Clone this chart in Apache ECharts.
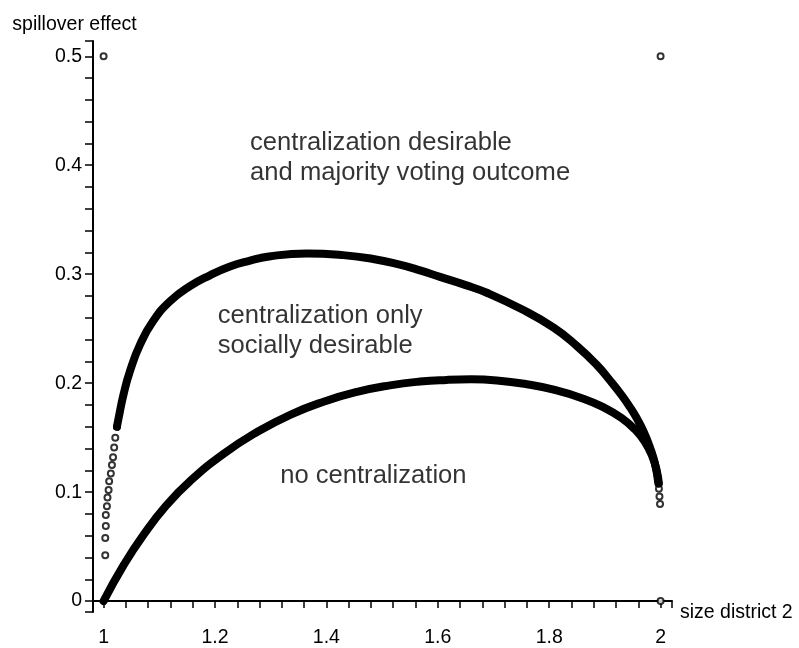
<!DOCTYPE html>
<html>
<head>
<meta charset="utf-8">
<script src="https://cdn.jsdelivr.net/npm/echarts@6/dist/echarts.min.js"></script>
<style>
  html, body { margin: 0; padding: 0; background: #fff; }
  #chart { width: 799px; height: 648px; }
</style>
</head>
<body>
<div id="chart"></div>
<script>
// tick labels
const xTickLabels = [1, 1.2, 1.4, 1.6, 1.8, 2];
const yTickLabels = [0, 0.1, 0.2, 0.3, 0.4, 0.5];

// upper boundary: loose circles next to x = 1 ...
const upperDotsX = [1.003, 1.003, 1.004, 1.004, 1.006, 1.007, 1.009, 1.010, 1.013, 1.015, 1.017, 1.019, 1.021, 1.024];
const upperDotsY = [0.042, 0.058, 0.069, 0.079, 0.087, 0.095, 0.102, 0.110, 0.117, 0.125, 0.132, 0.141, 0.150, 0.160];
// ... then the dense band
const upperX = [1.024, 1.027, 1.036, 1.048, 1.066, 1.089, 1.119, 1.155, 1.191, 1.227, 1.260, 1.300, 1.365, 1.430, 1.484, 1.530, 1.568, 1.604, 1.650, 1.688, 1.750, 1.808, 1.850, 1.885, 1.910, 1.930, 1.945, 1.957, 1.970, 1.981, 1.990, 1.996];
const upperY = [0.160, 0.168, 0.190, 0.212, 0.236, 0.257, 0.275, 0.289, 0.299, 0.307, 0.312, 0.3165, 0.319, 0.3175, 0.314, 0.309, 0.3035, 0.2975, 0.290, 0.283, 0.268, 0.251, 0.234, 0.217, 0.202, 0.189, 0.178, 0.168, 0.155, 0.141, 0.126, 0.108];

// lower boundary
const lowerX = [1.000, 1.036, 1.072, 1.113, 1.155, 1.215, 1.275, 1.335, 1.395, 1.455, 1.514, 1.568, 1.616, 1.660, 1.706, 1.760, 1.808, 1.860, 1.897, 1.930, 1.955, 1.972, 1.985, 1.993, 1.997];
const lowerY = [0.000, 0.033, 0.061, 0.088, 0.110, 0.135, 0.155, 0.171, 0.183, 0.192, 0.198, 0.2015, 0.203, 0.2035, 0.2025, 0.199, 0.194, 0.186, 0.178, 0.168, 0.157, 0.146, 0.133, 0.120, 0.108];

// loose circles where both curves end at x = 2
const tailX = [1.997, 1.998, 1.999];
const tailY = [0.103, 0.096, 0.089];

// corner points
const cornerX = [1, 2, 2];
const cornerY = [0.5, 0.5, 0];

// axis extents (Maple draws the axes a bit past the data)
const xMin = 0.981, xMax = 2.0205;
const yMin = -0.01, yMax = 0.514;

// minor ticks every 0.04 (x) and 0.02 (y), plus end hooks
const xTicks = [];
for (let i = 0; i <= 25; i++) xTicks.push(+(1 + i * 0.04).toFixed(2));
xTicks.push(xMax);
const yTicks = [yMin];
for (let i = 0; i <= 25; i++) yTicks.push(+(i * 0.02).toFixed(2));
yTicks.push(yMax);

const zip = (xs, ys) => xs.map((x, i) => [x, ys[i]]);

const font = "'Liberation Sans', Arial, sans-serif";

const notes = [
  { x: 1.263, y: 0.407, text: 'centralization desirable\nand majority voting outcome' },
  { x: 1.205, y: 0.2477, text: 'centralization only\nsocially desirable' },
  { x: 1.317, y: 0.1145, text: 'no centralization' }
];

const chart = echarts.init(document.getElementById('chart'));

const option = {
  animation: false,
  backgroundColor: '#fff',
  grid: { left: 93, right: 127, top: 41, bottom: 30 },
  xAxis: {
    type: 'value',
    min: xMin,
    max: xMax,
    name: 'size district 2',
    nameLocation: 'end',
    nameGap: 8,
    nameTextStyle: { color: '#000', fontSize: 19.5, fontFamily: font, verticalAlign: 'top', lineHeight: 24 },
    splitLine: { show: false },
    axisLine: { onZero: true, lineStyle: { color: '#000', width: 2 } },
    axisTick: { show: true, length: 7, lineStyle: { color: '#000', width: 1.5 }, customValues: xTicks },
    axisLabel: { color: '#000', fontSize: 19.5, fontFamily: font, margin: 16, customValues: xTickLabels }
  },
  yAxis: {
    type: 'value',
    min: yMin,
    max: yMax,
    name: 'spillover effect',
    nameLocation: 'end',
    nameGap: 6,
    nameTextStyle: { color: '#000', fontSize: 19.5, fontFamily: font, padding: [0, 37, 0, 0] },
    splitLine: { show: false },
    axisLine: { show: true, onZero: false, lineStyle: { color: '#000', width: 2 } },
    axisTick: { show: true, length: 8, lineStyle: { color: '#000', width: 1.5 }, customValues: yTicks },
    axisLabel: { color: '#000', fontSize: 19.5, fontFamily: font, margin: 11, customValues: yTickLabels }
  },
  series: [
    {
      type: 'line',
      data: zip(upperX, upperY),
      smooth: true,
      showSymbol: false,
      lineStyle: { color: '#000', width: 8, cap: 'round' },
      silent: true
    },
    {
      type: 'line',
      data: zip(lowerX, lowerY),
      smooth: true,
      showSymbol: false,
      lineStyle: { color: '#000', width: 8, cap: 'round' },
      silent: true
    },
    {
      type: 'scatter',
      data: zip(upperDotsX, upperDotsY).concat(zip(tailX, tailY), zip(cornerX, cornerY)),
      symbol: 'emptyCircle',
      symbolSize: 6,
      itemStyle: { color: '#000', borderColor: '#000', borderWidth: 1.4 },
      silent: true
    },
    {
      type: 'scatter',
      data: notes.map(n => ({ value: [n.x, n.y], text: n.text })),
      symbolSize: 0,
      silent: true,
      label: {
        show: true,
        position: 'right',
        distance: 0,
        color: '#000',
        fontSize: 25.6,
        fontFamily: font,
        lineHeight: 30,
        formatter: p => p.data.text
      }
    }
  ]
};

chart.setOption(option);
</script>
</body>
</html>
